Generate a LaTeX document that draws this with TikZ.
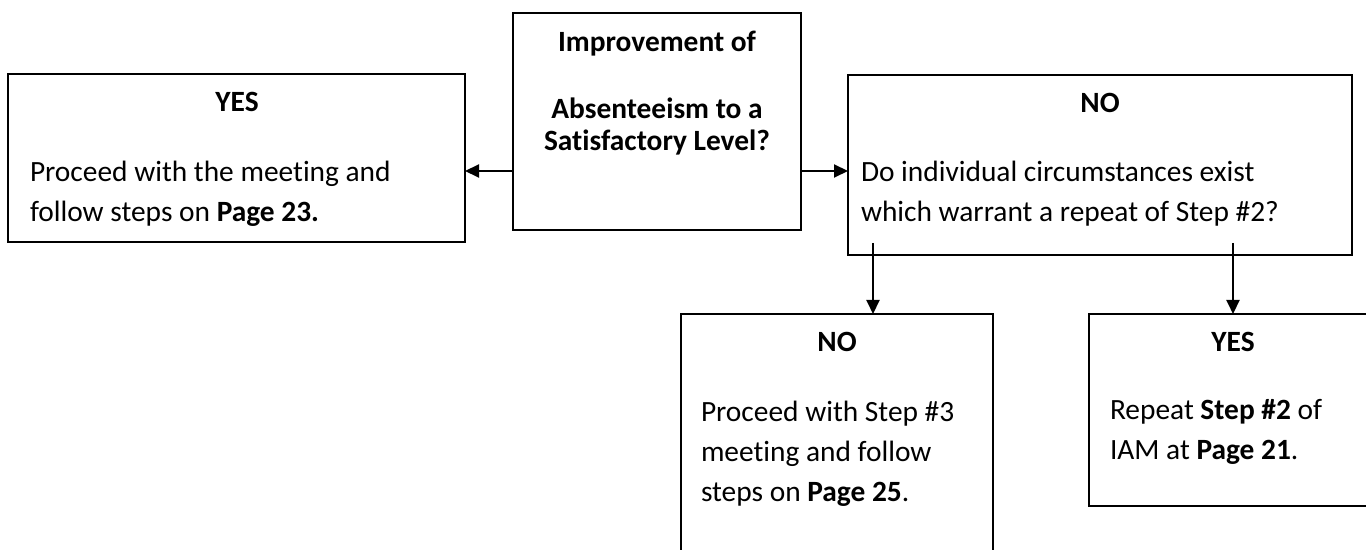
\documentclass[tikz,border=0pt]{standalone}
\usepackage{fontspec}
\setmainfont{Carlito}[RawFeature={-liga}]
\usetikzlibrary{arrows.meta}
\begin{document}
\begin{tikzpicture}[x=0.5pt,y=-0.5pt,
  box/.style={draw=black,line width=1pt,rectangle,inner sep=0pt,outer sep=0pt,anchor=north west},
  txt/.style={inner sep=0pt,outer sep=0pt,font=\fontsize{14.7}{18}\selectfont},
  head/.style={txt,anchor=base,font=\fontsize{14.7}{18}\selectfont\bfseries},
  line/.style={txt,anchor=base west},
  arr/.style={line width=1pt,-{Triangle[length=7pt,width=6.5pt]}}]
\useasboundingbox (0,0) rectangle (1366,550);
\clip (0,0) rectangle (1366,550);
\fill[white] (0,0) rectangle (1366,550);

% boxes
\node[box,minimum width=228.5pt,minimum height=84pt] (yesA) at (8,74) {};
\node[box,minimum width=144pt,minimum height=108.5pt] (q) at (513,13) {};
\node[box,minimum width=252pt,minimum height=90pt] (noA) at (848,75) {};
\node[box,minimum width=156pt,minimum height=130pt] (noB) at (681,314) {};
\node[box,minimum width=144pt,minimum height=96pt] (yesB) at (1089,314) {};

% question
\node[head] (q1) at (657,52) {Improvement of};
\node[head] (q2) at (657,119) {Absenteeism to a};
\node[head] (q3) at (657,151) {Satisfactory Level?};

% left answer
\node[head] (yA) at (237,112) {YES};
\node[line] (yA1) at (30,182) {Proceed with the meeting and};
\node[line] (yA2) at (30,222) {follow steps on \textbf{Page 23.}};

% right answer
\node[head] (nA) at (1100,113) {NO};
\node[line] (nA1) at (861,182) {Do individual circumstances exist};
\node[line] (nA2) at (861,222) {which warrant a repeat of Step \#2?};

% lower answers
\node[head] (nB) at (837,352) {NO};
\node[line] (nB1) at (701,422) {Proceed with Step \#3};
\node[line] (nB2) at (701,462) {meeting and follow};
\node[line] (nB3) at (701,502) {steps on \textbf{Page 25}.};

\node[head] (yB) at (1233,352) {YES};
\node[line] (yB1) at (1110,420) {Repeat \textbf{Step \#2} of};
\node[line] (yB2) at (1110,460) {IAM at \textbf{Page 21}.};

% connectors
\coordinate (lvl) at (0,171);
\coordinate (d1) at (873,243);
\coordinate (d2) at (1233,243);
\draw[arr] (q.west |- lvl) -- (yesA.east |- lvl);
\draw[arr] (q.east |- lvl) -- (noA.west |- lvl);
\draw[arr] (d1) -- (d1 |- noB.north);
\draw[arr] (d2) -- (d2 |- yesB.north);
\end{tikzpicture}
\end{document}
